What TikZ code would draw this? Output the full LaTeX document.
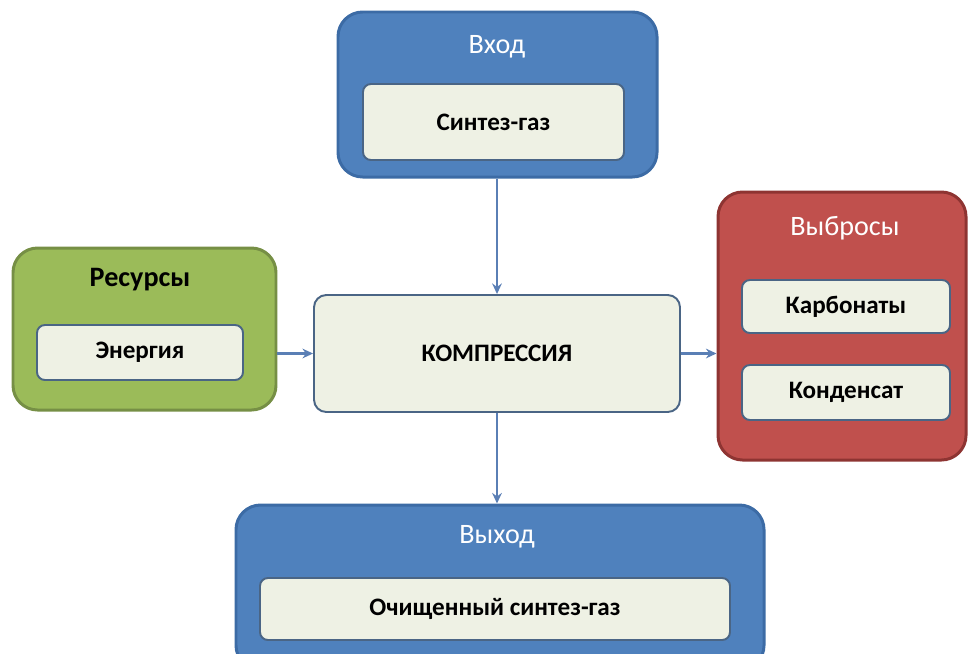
\documentclass[tikz,border=0pt]{standalone}
\usepackage{fontspec}
\setmainfont{Carlito}
\usetikzlibrary{arrows.meta}

\definecolor{blokSin}{HTML}{4F81BD}
\definecolor{ramkaSin}{HTML}{3C6BA5}
\definecolor{blokZel}{HTML}{9BBB59}
\definecolor{ramkaZel}{HTML}{768F45}
\definecolor{blokKras}{HTML}{C0504D}
\definecolor{ramkaKras}{HTML}{8E3432}
\definecolor{fonVnutr}{HTML}{EEF1E4}
\definecolor{ramkaVnutr}{HTML}{4A6585}
\definecolor{strelka}{HTML}{5A7FB5}

\newlength\px
\setlength\px{0.02cm}

\begin{document}
\begin{tikzpicture}[x=1\px, y=-1\px,
  vneshn/.style={draw, line width=1.7pt, rounded corners=14pt, inner sep=0pt},
  vnutr/.style={draw=ramkaVnutr, fill=fonVnutr, line width=1.1pt, rounded corners=4.5pt,
    inner sep=0pt, font=\fontsize{14.3}{17}\selectfont\bfseries},
  zagol/.style={inner sep=0pt, text=white, font=\fontsize{16}{19}\selectfont},
  potok/.style={draw=strelka, line width=1.3pt, -{Stealth[length=6pt,width=5.5pt]}}]
  \clip (0,0) rectangle (969,653);
  % vkhod
  \node [vneshn, draw=ramkaSin, fill=blokSin, minimum width=319\px, minimum height=165\px] (vkhod) at (497.5,94.5) {};
  \node [zagol] (vkhodZag) at (497,47) {Вход};
  \node [vnutr, minimum width=261\px, minimum height=76\px] (sintez) at (493.5,122) {Синтез-газ};
  % resursy
  \node [vneshn, draw=ramkaZel, fill=blokZel, minimum width=263\px, minimum height=162\px] (resursy) at (144.5,329) {};
  \node [zagol, text=black, font=\fontsize{16}{19}\selectfont\bfseries] (resursyZag) at (140,280) {Ресурсы};
  \node [vnutr, minimum width=206\px, minimum height=55\px] (energiya) at (140,352.5) {Энергия};
  % kompressiya
  \node [vnutr, draw=ramkaVnutr, rounded corners=7pt, minimum width=366\px, minimum height=117\px] (kompr) at (497,353.5) {КОМПРЕССИЯ};
  % vybrosy
  \node [vneshn, draw=ramkaKras, fill=blokKras, minimum width=248\px, minimum height=268\px] (vybrosy) at (842,326) {};
  \node [zagol] (vybrosyZag) at (845,228) {Выбросы};
  \node [vnutr, minimum width=208\px, minimum height=53\px] (karbonaty) at (846,306.5) {Карбонаты};
  \node [vnutr, minimum width=208\px, minimum height=55\px] (kondensat) at (846,392.5) {Конденсат};
  % vykhod
  \node [vneshn, draw=ramkaSin, fill=blokSin, minimum width=528\px, minimum height=165\px] (vykhod) at (500,587.5) {};
  \node [zagol] (vykhodZag) at (497,537) {Выход};
  \node [vnutr, minimum width=470\px, minimum height=62\px] (ochisch) at (495,609) {Очищенный синтез-газ};
  % strelki
  \draw [potok] (vkhod.south -| kompr) -- (kompr.north);
  \draw [potok] (kompr.south) -- (kompr.south |- vykhod.north);
  \draw [potok] (resursy.east |- kompr) -- (kompr.west);
  \draw [potok] (kompr.east) -- (kompr.east -| vybrosy.west);
\end{tikzpicture}
\end{document}
